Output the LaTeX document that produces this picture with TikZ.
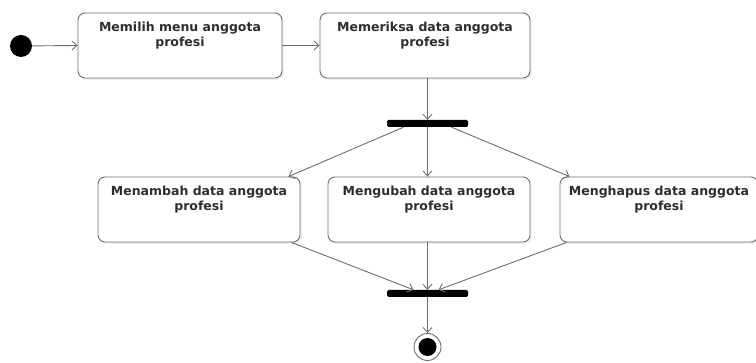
\documentclass[tikz,border=0pt]{standalone}
\usepackage{fontspec}
\newfontfamily\actfont{DejaVu Sans}
\usetikzlibrary{positioning, arrows.meta, shadows}

\definecolor{edgegray}{HTML}{6E6E6E}
\definecolor{textgray}{HTML}{2E2E2E}

\begin{document}
\begin{tikzpicture}[x=1pt, y=-1pt,
        actbox/.style={rectangle, rounded corners=7pt, draw=edgegray, line width=0.9pt, fill=white,
          minimum height=65pt, inner sep=0pt,
          drop shadow={opacity=0.12, shadow xshift=2pt, shadow yshift=-2pt}},
        acttext/.style={anchor=north, inner sep=0pt, align=center, text=textgray,
          font=\actfont\bfseries\fontsize{12.5}{15.5}\selectfont},
        bar/.style={rectangle, fill=black, rounded corners=1.5pt, minimum width=81pt, minimum height=7pt, inner sep=0pt},
        flow/.style={draw=edgegray, line width=0.9pt, -{Straight Barb[length=5pt, width=9pt]}}]
        \useasboundingbox (0,0) rectangle (756,363);

        \node[circle, fill=black, minimum size=22pt, inner sep=0pt] (start) at (21,46) {};

        \node[actbox, minimum width=204pt] (memilih) at (180,45.5) {};
        \node[acttext] (memilihT) at ([yshift=-9pt]memilih.north) {Memilih menu anggota\\profesi};
        \node[actbox, minimum width=210pt] (memeriksa) at (425,45.5) {};
        \node[acttext] (memeriksaT) at ([yshift=-9pt]memeriksa.north) {Memeriksa data anggota\\profesi};

        \node[bar] (fork) at (427.5,123.5) {};

        \node[actbox, minimum width=202pt] (menambah) at (199,209.5) {};
        \node[acttext] (menambahT) at ([yshift=-9pt]menambah.north) {Menambah data anggota\\profesi};
        \node[actbox, minimum width=202pt] (mengubah) at (429,209.5) {};
        \node[acttext] (mengubahT) at ([yshift=-9pt]mengubah.north) {Mengubah data anggota\\profesi};
        \node[actbox, minimum width=198pt] (menghapus) at (659,209.5) {};
        \node[acttext] (menghapusT) at ([yshift=-9pt]menghapus.north) {Menghapus data anggota\\profesi};

        \node[bar] (join) at (427.5,293.5) {};

        \node[circle, draw=edgegray, line width=0.9pt, fill=white, minimum size=27pt, inner sep=0pt] (final) at (427.5,347) {};
        \node[circle, fill=black, minimum size=18pt, inner sep=0pt] (finaldot) at (final.center) {};

        \draw[flow] (start) -- (memilih.west);
        \draw[flow] (memilih.east) -- (memeriksa.west);
        \draw[flow] (memeriksa.south -| fork.north) -- (fork.north);

        \draw[flow] ([xshift=-24pt]fork.south) -- ([xshift=-12pt]menambah.north east);
        \draw[flow] (fork.south) -- (fork.south |- mengubah.north);
        \draw[flow] ([xshift=24pt]fork.south) -- ([xshift=10pt]menghapus.north west);

        \draw[flow] ([xshift=-9pt]menambah.south east) -- ([xshift=-14pt]join.north);
        \draw[flow] (join.north |- mengubah.south) -- (join.north);
        \draw[flow] ([xshift=7pt]menghapus.south west) -- ([xshift=11pt]join.north);

        \draw[flow] (join.south) -- (final.north);
      \end{tikzpicture}
\end{document}
